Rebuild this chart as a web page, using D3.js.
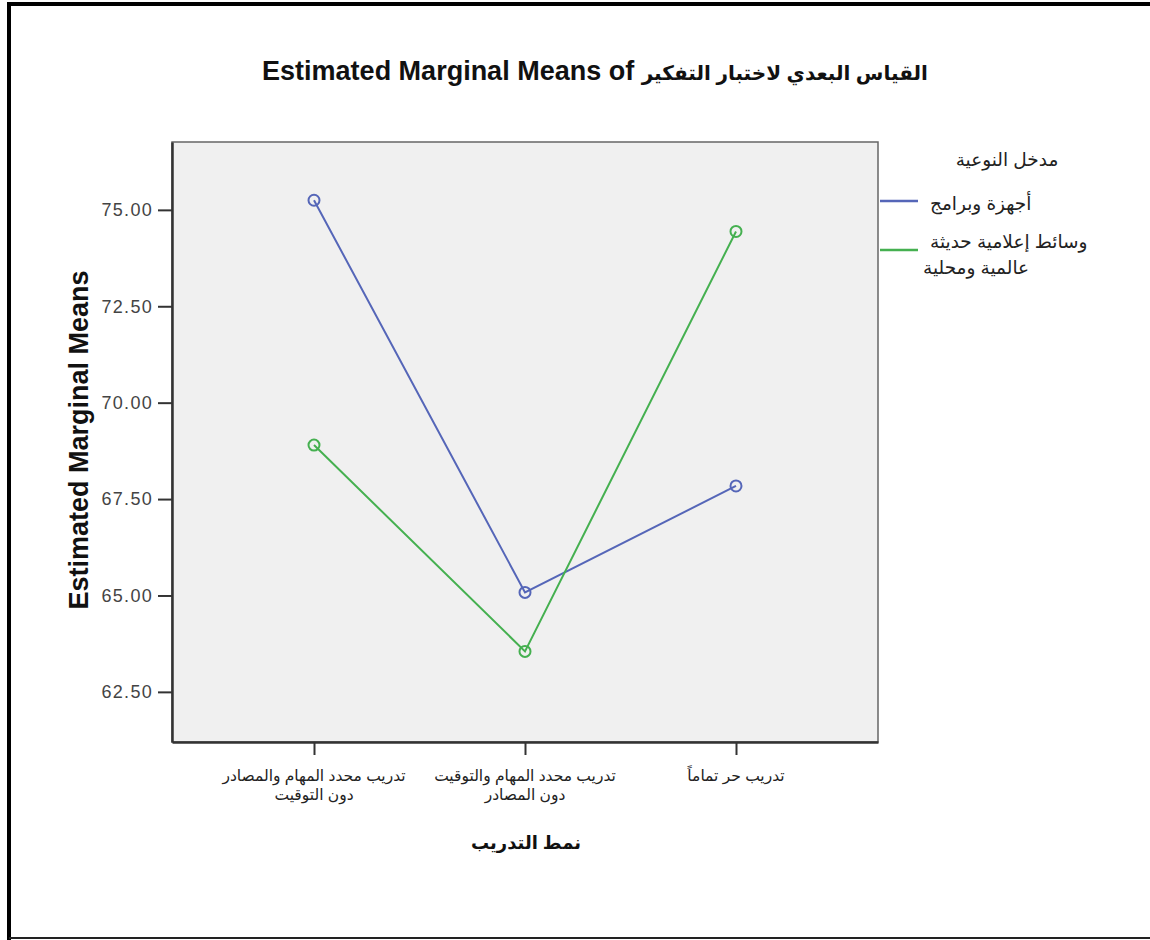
<!DOCTYPE html>
<html>
<head>
<meta charset="utf-8">
<script src="https://cdn.jsdelivr.net/npm/d3@7"></script>
<style>
  body { margin: 0; background: #fff; }
  svg text { font-family: "Liberation Sans", Arial, "DejaVu Sans", sans-serif; }
</style>
</head>
<body>
<div id="chart"></div>
<script>
    // data
    const categories = [
        ["تدريب محدد المهام والمصادر", "دون التوقيت"],
        ["تدريب محدد المهام والتوقيت", "دون المصادر"],
        ["تدريب حر تماماً"]
    ];
    const seriesNames = [["أجهزة وبرامج"], ["وسائط إعلامية حديثة", "عالمية ومحلية"]];
    const devicesValues = [75.25, 65.08, 67.84];
    const mediaValues = [68.9, 63.55, 74.44];
    const yTicks = [62.5, 65, 67.5, 70, 72.5, 75];
    const colors = ["#5566b8", "#45b050"];

    let width = 1150, height = 940;
    const plot = { left: 172, top: 142, right: 878, bottom: 742 };

    const svg = d3.select("#chart")
        .append("svg")
        .attr("width", width)
        .attr("height", height);

    // outer frame
    svg.append("path")
        .attr("d", `M9,${height} V4 H${width}`)
        .attr("fill", "none")
        .attr("stroke", "#000")
        .attr("stroke-width", 4);
    svg.append("line")
        .attr("x1", 9).attr("x2", width)
        .attr("y1", 938).attr("y2", 938)
        .attr("stroke", "#222").attr("stroke-width", 2);

    const x = d3.scalePoint()
        .domain(d3.range(categories.length))
        .range([plot.left, plot.right])
        .padding(0.673);

    const y = d3.scaleLinear()
        .domain([61.2, 76.76])
        .range([plot.bottom, plot.top]);

    // plot background
    svg.append("rect")
        .attr("x", plot.left)
        .attr("y", plot.top)
        .attr("width", plot.right - plot.left)
        .attr("height", plot.bottom - plot.top)
        .attr("fill", "#f0f0f0")
        .attr("stroke", "#666")
        .attr("stroke-width", 1.5);

    // axes
    const yAxis = svg.append("g")
        .attr("transform", `translate(${plot.left},0)`)
        .call(d3.axisLeft(y).tickValues(yTicks).tickFormat(d3.format(".2f"))
            .tickSize(14).tickSizeOuter(0).tickPadding(5));
    yAxis.select(".domain").attr("stroke", "#333").attr("stroke-width", 2.5);
    yAxis.selectAll(".tick line").attr("stroke", "#333").attr("stroke-width", 2);
    yAxis.selectAll(".tick text")
        .attr("font-size", 18)
        .attr("letter-spacing", 1.3)
        .attr("fill", "#444")
        .style("font-family", "Liberation Sans, Arial, sans-serif");

    const xAxis = svg.append("g")
        .attr("transform", `translate(0,${plot.bottom})`)
        .call(d3.axisBottom(x).tickSize(13).tickSizeOuter(0).tickFormat(""));
    xAxis.select(".domain").attr("stroke", "#333").attr("stroke-width", 2.5);
    xAxis.selectAll(".tick line").attr("stroke", "#333").attr("stroke-width", 2);

    // category labels (two lines)
    categories.forEach((lines, i) => {
        const t = svg.append("text")
            .attr("x", x(i))
            .attr("y", 781)
            .attr("text-anchor", "middle")
            .attr("font-size", 15.5)
            .attr("fill", "#222");
        lines.forEach((s, j) => {
            t.append("tspan")
                .attr("x", x(i))
                .attr("dy", j === 0 ? 0 : 19)
                .text(s);
        });
    });

    // lines and markers
    const series = [devicesValues, mediaValues];
    const line = d3.line()
        .x((d, i) => x(i))
        .y(d => y(d));

    series.forEach((vals, k) => {
        svg.append("path")
            .datum(vals)
            .attr("d", line)
            .attr("fill", "none")
            .attr("stroke", colors[k])
            .attr("stroke-width", 2);
        svg.append("g")
            .selectAll("circle")
            .data(vals)
            .join("circle")
            .attr("cx", (d, i) => x(i))
            .attr("cy", d => y(d))
            .attr("r", 5.5)
            .attr("fill", "none")
            .attr("stroke", colors[k])
            .attr("stroke-width", 2);
    });

    // title
    const title = svg.append("text")
        .attr("x", 595)
        .attr("y", 80)
        .attr("text-anchor", "middle")
        .attr("font-weight", "bold")
        .attr("fill", "#111");
    title.append("tspan").attr("font-size", 27).text("Estimated Marginal Means of ");
    title.append("tspan").attr("font-size", 20).text("القياس البعدي لاختبار التفكير");

    // y axis title
    svg.append("text")
        .attr("transform", `translate(88,${(plot.top + plot.bottom) / 2 - 2}) rotate(-90)`)
        .attr("text-anchor", "middle")
        .attr("font-size", 27)
        .attr("font-weight", "bold")
        .attr("fill", "#111")
        .text("Estimated Marginal Means");

    // x axis title
    svg.append("text")
        .attr("x", 526)
        .attr("y", 849)
        .attr("text-anchor", "middle")
        .attr("font-size", 18)
        .attr("font-weight", "bold")
        .attr("fill", "#111")
        .text("نمط التدريب");

    // legend
    svg.append("text")
        .attr("x", 1007)
        .attr("y", 166)
        .attr("text-anchor", "middle")
        .attr("font-size", 18.5)
        .attr("fill", "#222")
        .text("مدخل النوعية");

    const legendY = [201, 250];
    const legendTextY = [210, 248];
    seriesNames.forEach((lines, k) => {
        svg.append("line")
            .attr("x1", 880).attr("x2", 918)
            .attr("y1", legendY[k]).attr("y2", legendY[k])
            .attr("stroke", colors[k])
            .attr("stroke-width", 2.5);
        const t = svg.append("text")
            .attr("y", legendTextY[k])
            .attr("font-size", 18.5)
            .attr("fill", "#222");
        lines.forEach((s, j) => {
            t.append("tspan")
                .attr("x", j === 0 ? 930 : 923)
                .attr("dy", j === 0 ? 0 : 26)
                .text(s);
        });
    });
</script>
</body>
</html>
